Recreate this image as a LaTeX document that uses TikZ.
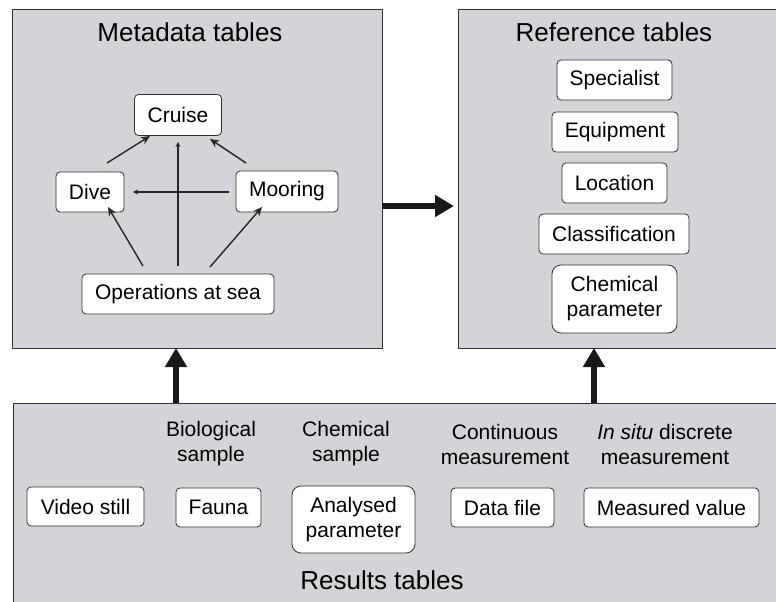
\documentclass[tikz,border=0pt]{standalone}
\usepackage{fontspec}
\setmainfont{Liberation Sans}
\usetikzlibrary{arrows.meta,calc}
\definecolor{panelgray}{RGB}{211,212,215}
\definecolor{edgegray}{RGB}{50,50,50}
\tikzset{
  panel/.style={draw=edgegray,line width=0.9pt,fill=panelgray,rectangle,inner sep=0pt},
  tbl/.style={draw=edgegray,line width=0.8pt,fill=white,rounded corners=4pt,inner sep=0pt,
    align=center,font=\fontsize{21}{25}\selectfont},
  tbl2/.style={tbl,rounded corners=9pt},
  title/.style={font=\fontsize{26}{30}\selectfont,inner sep=0pt},
  lbl/.style={font=\fontsize{21}{25}\selectfont,align=center,inner sep=0pt},
  thin/.style={line width=1.4pt,draw=black!85,-{Stealth[length=9pt,width=8pt]}},
  faint/.style={line width=1.4pt,draw=black!85,-{Stealth[length=5pt,width=5pt]}},
  big/.style={line width=6pt,draw=black!90,-{Triangle[length=19pt,width=21pt]}}
}
\begin{document}
\begin{tikzpicture}[x=1pt,y=1pt]
\useasboundingbox (0,0) rectangle (776,-602);
\clip (0,0) rectangle (776,-602);
\fill[white] (0,0) rectangle (776,-602);
% panels
\node[panel,minimum width=370pt,minimum height=339pt] (meta) at (197,-178.5) {};
\node[panel,minimum width=330pt,minimum height=339pt] (ref) at (623,-178.5) {};
\node[panel,minimum width=780pt,minimum height=220pt] (res) at (403,-513) {};
% titles
\node[title] (metat) at (190,-32) {Metadata tables};
\node[title] (reft) at (614,-32) {Reference tables};
\node[title] (rest) at (382,-580) {Results tables};
% metadata nodes
\node[tbl,minimum width=87pt,minimum height=41pt] (cruise) at (178,-115) {Cruise};
\node[tbl,minimum width=68pt,minimum height=40pt] (dive) at (90,-192) {Dive};
\node[tbl,minimum width=102pt,minimum height=41pt] (mooring) at (287,-191.5) {Mooring};
\node[tbl,minimum width=192pt,minimum height=40pt] (ops) at (178,-294) {Operations at sea};
% reference nodes
\node[tbl,minimum width=115pt,minimum height=40pt] (spec) at (614.5,-80) {Specialist};
\node[tbl,minimum width=126pt,minimum height=40pt] (equip) at (615,-132) {Equipment};
\node[tbl,minimum width=105pt,minimum height=40pt] (loc) at (614.5,-183) {Location};
\node[tbl,minimum width=150pt,minimum height=40pt] (class) at (614,-234) {Classification};
\node[tbl2,minimum width=125pt,minimum height=68pt] (chem) at (614.5,-299) {Chemical\\parameter};
% results labels
\node[lbl] (bio) at (211,-444) {Biological\\sample};
\node[lbl] (chs) at (346,-444) {Chemical\\sample};
\node[lbl] (cont) at (505,-444) {Continuous\\measurement};
\node[lbl] (insitu) at (665,-444) {\textit{In situ} discrete\\measurement};
% results nodes
\node[tbl,minimum width=117pt,minimum height=39pt] (video) at (85.5,-506.5) {Video still};
\node[tbl,minimum width=85pt,minimum height=39pt] (fauna) at (218.5,-507.5) {Fauna};
\node[tbl2,minimum width=123pt,minimum height=67pt] (anal) at (353.5,-519.5) {Analysed\\parameter};
\node[tbl,minimum width=103pt,minimum height=39pt] (dfile) at (502.5,-507.5) {Data file};
\node[tbl,minimum width=175pt,minimum height=39pt] (mval) at (671.5,-507.5) {Measured value};
% metadata arrows
\coordinate (dc1) at (107,-163); \coordinate (dc2) at (150,-136);
\coordinate (mc1) at (246,-163); \coordinate (mc2) at (210,-139);
\coordinate (md1) at (229,-192); \coordinate (md2) at (133,-192);
\coordinate (oc1) at (178,-266); \coordinate (oc2) at (178,-142);
\coordinate (od1) at (143,-266); \coordinate (od2) at (108,-207);
\coordinate (om1) at (210,-267); \coordinate (om2) at (262,-207);
\draw[thin] (dc1) -- (dc2);
\draw[thin] (mc1) -- (mc2);
\draw[faint] (md1) -- (md2);
\draw[faint] (oc1) -- (oc2);
\draw[thin] (od1) -- (od2);
\draw[thin] (om1) -- (om2);
% big arrows
\coordinate (h1) at (382,-206); \coordinate (h2) at (454,-206);
\draw[big] (h1) -- (h2);
\coordinate (v1) at (176,-403); \coordinate (v1t) at (176,-348);
\draw[big] (v1) -- (v1t);
\coordinate (v2) at (594,-403); \coordinate (v2t) at (594,-348);
\draw[big] (v2) -- (v2t);
\end{tikzpicture}
\end{document}
